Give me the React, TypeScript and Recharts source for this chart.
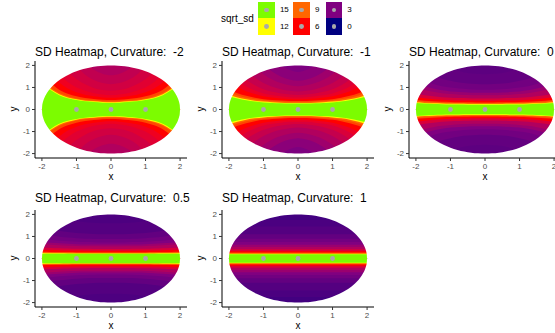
import React from 'react';
import { ComposedChart, Area, Scatter, XAxis, YAxis } from 'recharts';

// ---------- data ----------
const curvatureLabels = ['-2', '-1', '0', '0.5', '1'];
// |x| positions at which contour half-heights were read (mirrored for negative x)
const xAbs = [0, 0.25, 0.5, 0.75, 1, 1.25, 1.5, 1.75, 2];

// Curvature -2
const baseM2 = 4.0;
const levelsM2 = [4.4, 4.8, 5.2, 5.6, 6, 7.5, 9, 12, 15];
const heightsM2 = [
  [1.55, 1.62, 1.8, 2.1, 2.2, 2.2, 2.2, 2.2, 2.2],
  [1.15, 1.2, 1.34, 1.58, 1.95, 2.2, 2.2, 2.2, 2.2],
  [0.85, 0.89, 0.98, 1.14, 1.38, 1.72, 2.2, 2.2, 2.2],
  [0.65, 0.68, 0.74, 0.85, 1.0, 1.25, 1.6, 2.1, 2.2],
  [0.53, 0.55, 0.6, 0.67, 0.78, 0.95, 1.22, 1.62, 2.05],
  [0.43, 0.44, 0.48, 0.52, 0.6, 0.72, 0.9, 1.2, 1.55],
  [0.37, 0.38, 0.41, 0.44, 0.5, 0.6, 0.75, 1.0, 1.3],
  [0.33, 0.34, 0.37, 0.4, 0.46, 0.55, 0.69, 0.93, 1.2],
  [0.3, 0.31, 0.34, 0.37, 0.43, 0.51, 0.65, 0.88, 1.15],
];

// Curvature -1
const baseM1 = 2.9;
const levelsM1 = [3.2, 3.6, 4, 4.5, 5, 5.5, 6, 7.5, 9, 12, 15];
const heightsM1 = [
  [1.7, 1.8, 2.0, 2.2, 2.2, 2.2, 2.2, 2.2, 2.2],
  [1.3, 1.36, 1.5, 1.72, 2.05, 2.2, 2.2, 2.2, 2.2],
  [1.05, 1.1, 1.2, 1.36, 1.6, 1.95, 2.2, 2.2, 2.2],
  [0.82, 0.85, 0.92, 1.03, 1.2, 1.45, 1.8, 2.2, 2.2],
  [0.66, 0.68, 0.73, 0.8, 0.92, 1.1, 1.35, 1.7, 2.1],
  [0.55, 0.56, 0.6, 0.65, 0.73, 0.86, 1.04, 1.3, 1.6],
  [0.47, 0.48, 0.5, 0.54, 0.6, 0.7, 0.83, 1.02, 1.25],
  [0.38, 0.39, 0.41, 0.43, 0.47, 0.53, 0.62, 0.74, 0.9],
  [0.34, 0.34, 0.36, 0.38, 0.41, 0.46, 0.53, 0.64, 0.78],
  [0.3, 0.3, 0.31, 0.33, 0.36, 0.4, 0.46, 0.55, 0.66],
  [0.27, 0.27, 0.28, 0.3, 0.32, 0.36, 0.42, 0.5, 0.6],
];

// Curvature 0
const base0 = 1.8;
const levels0 = [2, 2.5, 3, 3.5, 4, 5, 6, 7.5, 9, 12, 15];
const heights0 = [
  [1.6, 1.62, 1.66, 1.75, 1.9, 2.1, 2.2, 2.2, 2.2],
  [1.15, 1.16, 1.18, 1.22, 1.3, 1.4, 1.55, 1.75, 2.0],
  [0.9, 0.9, 0.92, 0.95, 1.0, 1.06, 1.16, 1.3, 1.45],
  [0.76, 0.76, 0.77, 0.79, 0.82, 0.87, 0.95, 1.05, 1.17],
  [0.65, 0.65, 0.66, 0.67, 0.7, 0.74, 0.8, 0.88, 0.98],
  [0.5, 0.5, 0.51, 0.52, 0.53, 0.56, 0.6, 0.65, 0.72],
  [0.4, 0.4, 0.41, 0.41, 0.42, 0.44, 0.47, 0.51, 0.56],
  [0.32, 0.32, 0.33, 0.33, 0.34, 0.35, 0.37, 0.4, 0.43],
  [0.29, 0.29, 0.29, 0.3, 0.3, 0.31, 0.33, 0.35, 0.38],
  [0.25, 0.25, 0.25, 0.26, 0.26, 0.27, 0.28, 0.3, 0.33],
  [0.22, 0.22, 0.22, 0.23, 0.23, 0.24, 0.25, 0.27, 0.29],
];

// Curvature 0.5
const baseP05 = 1.3;
const levelsP05 = [1.5, 2, 2.5, 3, 3.5, 4, 5, 6, 7.5, 9, 12, 15];
const heightsP05 = [
  [1.6, 1.6, 1.62, 1.65, 1.7, 1.78, 1.9, 2.05, 2.2],
  [1.1, 1.1, 1.11, 1.13, 1.16, 1.2, 1.26, 1.34, 1.45],
  [0.88, 0.88, 0.89, 0.9, 0.92, 0.95, 0.99, 1.05, 1.12],
  [0.73, 0.73, 0.74, 0.75, 0.76, 0.78, 0.81, 0.85, 0.9],
  [0.63, 0.63, 0.64, 0.64, 0.65, 0.67, 0.69, 0.72, 0.76],
  [0.55, 0.55, 0.56, 0.56, 0.57, 0.58, 0.6, 0.62, 0.65],
  [0.43, 0.43, 0.43, 0.44, 0.44, 0.45, 0.46, 0.48, 0.5],
  [0.35, 0.35, 0.35, 0.35, 0.36, 0.36, 0.37, 0.38, 0.4],
  [0.28, 0.28, 0.28, 0.28, 0.28, 0.29, 0.29, 0.3, 0.31],
  [0.25, 0.25, 0.25, 0.25, 0.25, 0.26, 0.26, 0.27, 0.28],
  [0.23, 0.23, 0.23, 0.23, 0.23, 0.23, 0.24, 0.24, 0.25],
  [0.21, 0.21, 0.21, 0.21, 0.21, 0.21, 0.21, 0.22, 0.22],
];

// Curvature 1
const baseP1 = 1.0;
const levelsP1 = [1.25, 1.5, 2, 2.5, 3, 3.5, 4, 5, 6, 7.5, 9, 12, 15];
const heightsP1 = [
  [1.75, 1.75, 1.75, 1.75, 1.75, 1.75, 1.75, 1.75, 1.75],
  [1.45, 1.45, 1.45, 1.45, 1.45, 1.45, 1.45, 1.45, 1.45],
  [1.1, 1.1, 1.1, 1.1, 1.1, 1.1, 1.1, 1.1, 1.1],
  [0.9, 0.9, 0.9, 0.9, 0.9, 0.9, 0.9, 0.9, 0.9],
  [0.75, 0.75, 0.75, 0.75, 0.75, 0.75, 0.75, 0.75, 0.75],
  [0.62, 0.62, 0.62, 0.62, 0.62, 0.62, 0.62, 0.62, 0.62],
  [0.52, 0.52, 0.52, 0.52, 0.52, 0.52, 0.52, 0.52, 0.52],
  [0.42, 0.42, 0.42, 0.42, 0.42, 0.42, 0.42, 0.42, 0.42],
  [0.33, 0.33, 0.33, 0.33, 0.33, 0.33, 0.33, 0.33, 0.33],
  [0.27, 0.27, 0.27, 0.27, 0.27, 0.27, 0.27, 0.27, 0.27],
  [0.24, 0.24, 0.24, 0.24, 0.24, 0.24, 0.24, 0.24, 0.24],
  [0.21, 0.21, 0.21, 0.21, 0.21, 0.21, 0.21, 0.21, 0.21],
  [0.19, 0.19, 0.19, 0.19, 0.19, 0.19, 0.19, 0.19, 0.19],
];

// the elliptical domain boundary (half-height at |x|); 0 beyond the edge
const edgeX = [0, 0.2, 0.4, 0.6, 0.8, 1, 1.2, 1.4, 1.5, 1.6, 1.7, 1.8, 1.85, 1.9, 1.94, 1.97, 1.99, 2, 2.15];
const edgeHalf = [2, 1.99, 1.9596, 1.9079, 1.833, 1.7321, 1.6, 1.4283, 1.3229, 1.2, 1.0536, 0.8718, 0.7599, 0.6245, 0.4863, 0.345, 0.1997, 0, 0];

const pointsX = [-1, 0, 1];
const pointsY = [0, 0, 0];
const tickValues = [-2, -1, 0, 1, 2];
const legendColumns = [[15, 12], [9, 6], [3, 0]];
const stopValues = [0, 3, 6, 9, 12, 15];
const stopColors = ['#000080', '#800080', '#FF0000', '#FF6600', '#FFFF00', '#7CFC00'];

// ---------- helpers ----------
const FONT = "'Liberation Sans', Arial, Helvetica, sans-serif";
const PLOT_W = 152;
const PLOT_H = 97;
const Y_AXIS_W = 35;
const X_AXIS_H = 25;
const MARGIN_TOP = 5;
const CAP = 2.1;
const MASK_EDGE = 2.16;
const colLefts = [35, 222, 409];
const rowTops = [60.5, 209.5];

function hexToRgb(h: string) {
  return [parseInt(h.slice(1, 3), 16), parseInt(h.slice(3, 5), 16), parseInt(h.slice(5, 7), 16)];
}
function srgbToLin(c: number) {
  const v = c / 255;
  return v <= 0.04045 ? v / 12.92 : Math.pow((v + 0.055) / 1.055, 2.4);
}
function linToSrgb(v: number) {
  const c = v <= 0.0031308 ? 12.92 * v : 1.055 * Math.pow(v, 1 / 2.4) - 0.055;
  return Math.round(Math.max(0, Math.min(1, c)) * 255);
}
const WX = 0.95047, WY = 1.0, WZ = 1.08883;
function rgbToLab(rgb: number[]) {
  const [r, g, b] = rgb.map(srgbToLin);
  const X = (0.4124 * r + 0.3576 * g + 0.1805 * b) / WX;
  const Y = (0.2126 * r + 0.7152 * g + 0.0722 * b) / WY;
  const Z = (0.0193 * r + 0.1192 * g + 0.9505 * b) / WZ;
  const f = (t: number) => (t > 0.008856 ? Math.cbrt(t) : 7.787 * t + 16 / 116);
  const fx = f(X), fy = f(Y), fz = f(Z);
  return [116 * fy - 16, 500 * (fx - fy), 200 * (fy - fz)];
}
function labToRgb(lab: number[]) {
  const fy = (lab[0] + 16) / 116;
  const fx = fy + lab[1] / 500;
  const fz = fy - lab[2] / 200;
  const inv = (t: number) => (t > 0.206893 ? t * t * t : (t - 16 / 116) / 7.787);
  const X = inv(fx) * WX, Y = inv(fy) * WY, Z = inv(fz) * WZ;
  const r = 3.2406 * X - 1.5372 * Y - 0.4986 * Z;
  const g = -0.9689 * X + 1.8758 * Y + 0.0415 * Z;
  const b = 0.0557 * X - 0.204 * Y + 1.057 * Z;
  return [linToSrgb(r), linToSrgb(g), linToSrgb(b)];
}
const stopLabs = stopColors.map((c) => rgbToLab(hexToRgb(c)));
function colorAt(v: number) {
  const t = Math.max(0, Math.min(15, v));
  let i = 0;
  while (i < stopValues.length - 2 && t > stopValues[i + 1]) i++;
  const f = (t - stopValues[i]) / (stopValues[i + 1] - stopValues[i]);
  const a = stopLabs[i];
  const b = stopLabs[i + 1];
  const c = labToRgb(a.map((av, k) => av + (b[k] - av) * f));
  return `rgb(${c[0]},${c[1]},${c[2]})`;
}

function mirror(xs: number[], vals: number[], make: (v: number) => [number, number]) {
  const rows: { x: number; r: [number, number] }[] = [];
  for (let i = xs.length - 1; i >= 1; i--) rows.push({ x: -xs[i], r: make(vals[i]) });
  for (let i = 0; i < xs.length; i++) rows.push({ x: xs[i], r: make(vals[i]) });
  return rows;
}

const maskTop = mirror(edgeX, edgeHalf, (e) => [e, MASK_EDGE]);
const maskBottom = mirror(edgeX, edgeHalf, (e) => [-MASK_EDGE, -e]);
const baseRect = [
  { x: -2, r: [-CAP, CAP] },
  { x: 2, r: [-CAP, CAP] },
];
const pointData = pointsX.map((x, i) => ({ x, y: pointsY[i] }));

const panels = [
  { label: curvatureLabels[0], base: baseM2, levels: levelsM2, heights: heightsM2, col: 0, row: 0 },
  { label: curvatureLabels[1], base: baseM1, levels: levelsM1, heights: heightsM1, col: 1, row: 0 },
  { label: curvatureLabels[2], base: base0, levels: levels0, heights: heights0, col: 2, row: 0 },
  { label: curvatureLabels[3], base: baseP05, levels: levelsP05, heights: heightsP05, col: 0, row: 1 },
  { label: curvatureLabels[4], base: baseP1, levels: levelsP1, heights: heightsP1, col: 1, row: 1 },
];

const tickStyle = { fontSize: 8, fill: '#4D4D4D', fontFamily: FONT };

function Panel({ p }: { p: (typeof panels)[number] }) {
  const plotLeft = colLefts[p.col];
  const plotTop = rowTops[p.row];
  const left = plotLeft - Y_AXIS_W;
  const top = plotTop - MARGIN_TOP;
  return (
    <>
      <div style={{ position: 'absolute', left, top }}>
        <ComposedChart
          width={Y_AXIS_W + PLOT_W + 4}
          height={MARGIN_TOP + PLOT_H + X_AXIS_H}
          margin={{ top: MARGIN_TOP, right: 4, bottom: 0, left: 0 }}
        >
          <XAxis
            type="number"
            dataKey="x"
            domain={[-2.2, 2.2]}
            allowDataOverflow
            ticks={tickValues}
            height={X_AXIS_H}
            tickSize={3}
            tick={tickStyle}
            tickLine={{ stroke: '#333333' }}
            axisLine={{ stroke: '#000000', strokeWidth: 1 }}
          />
          <YAxis
            type="number"
            dataKey="y"
            domain={[-2.2, 2.2]}
            allowDataOverflow
            ticks={tickValues}
            width={Y_AXIS_W}
            tickSize={3}
            tick={tickStyle}
            tickLine={{ stroke: '#333333' }}
            axisLine={{ stroke: '#000000', strokeWidth: 1 }}
          />
          <Area
            data={baseRect}
            dataKey="r"
            type="linear"
            fill={colorAt(p.base)}
            fillOpacity={1}
            stroke="none"
            dot={false}
            activeDot={false}
            isAnimationActive={false}
          />
          {p.levels.map((lv, k) => (
            <Area
              key={k}
              data={mirror(xAbs, p.heights[k], (h) => [-Math.min(h, CAP), Math.min(h, CAP)])}
              dataKey="r"
              type="monotone"
              fill={colorAt(lv)}
              fillOpacity={1}
              stroke="none"
              dot={false}
              activeDot={false}
              isAnimationActive={false}
            />
          ))}
          <Area data={maskTop} dataKey="r" type="monotone" fill="#ffffff" fillOpacity={1} stroke="none" dot={false} activeDot={false} isAnimationActive={false} />
          <Area data={maskBottom} dataKey="r" type="monotone" fill="#ffffff" fillOpacity={1} stroke="none" dot={false} activeDot={false} isAnimationActive={false} />
          <Scatter
            data={pointData}
            fill="#A9A9A9"
            isAnimationActive={false}
            shape={(s: any) => <circle cx={s.cx} cy={s.cy} r={2.4} fill="#A9A9A9" />}
          />
        </ComposedChart>
      </div>
      <div
        style={{
          position: 'absolute',
          left: plotLeft,
          top: plotTop - (p.row === 0 ? 15 : 18),
          fontSize: 12,
          lineHeight: '12px',
          whiteSpace: 'pre',
          fontFamily: FONT,
          color: '#000',
        }}
      >
        {`SD Heatmap, Curvature:  ${p.label}`}
      </div>
      <div
        style={{
          position: 'absolute',
          left: plotLeft + PLOT_W / 2 - 10,
          width: 20,
          textAlign: 'center',
          top: plotTop + PLOT_H + 14,
          fontSize: 10,
          lineHeight: '10px',
          fontFamily: FONT,
          color: '#000',
        }}
      >
        x
      </div>
      <div
        style={{
          position: 'absolute',
          left: plotLeft - 31.5,
          top: plotTop + PLOT_H / 2 - 5,
          width: 20,
          textAlign: 'center',
          transform: 'rotate(-90deg)',
          fontSize: 10,
          lineHeight: '10px',
          fontFamily: FONT,
          color: '#000',
        }}
      >
        y
      </div>
    </>
  );
}

function Legend() {
  const keyLefts = [258.3, 293.3, 325.7];
  const KEY = 16.6;
  return (
    <>
      <div style={{ position: 'absolute', left: 221, top: 13, fontSize: 10, lineHeight: '12px', fontFamily: FONT, color: '#000' }}>
        sqrt_sd
      </div>
      {legendColumns.map((col, c) =>
        col.map((v, r) => (
          <React.Fragment key={`${c}-${r}`}>
            <div
              style={{
                position: 'absolute',
                left: keyLefts[c],
                top: 1.7 + r * KEY,
                width: KEY,
                height: KEY,
                background: colorAt(v),
              }}
            >
              <div
                style={{
                  position: 'absolute',
                  left: KEY / 2 - 2.4,
                  top: KEY / 2 - 2.4,
                  width: 4.8,
                  height: 4.8,
                  borderRadius: '50%',
                  background: '#A9A9A9',
                }}
              />
            </div>
            <div
              style={{
                position: 'absolute',
                left: keyLefts[c] + KEY + 5,
                top: 1.7 + r * KEY + KEY / 2 - 5,
                fontSize: 8,
                lineHeight: '10px',
                fontFamily: FONT,
                color: '#000',
              }}
            >
              {v}
            </div>
          </React.Fragment>
        ))
      )}
    </>
  );
}

export default function App() {
  return (
    <div style={{ position: 'absolute', left: 0, top: 0, width: 555, height: 333, overflow: 'hidden', background: '#fff' }}>
      <Legend />
      {panels.map((p, i) => (
        <Panel key={i} p={p} />
      ))}
    </div>
  );
}
